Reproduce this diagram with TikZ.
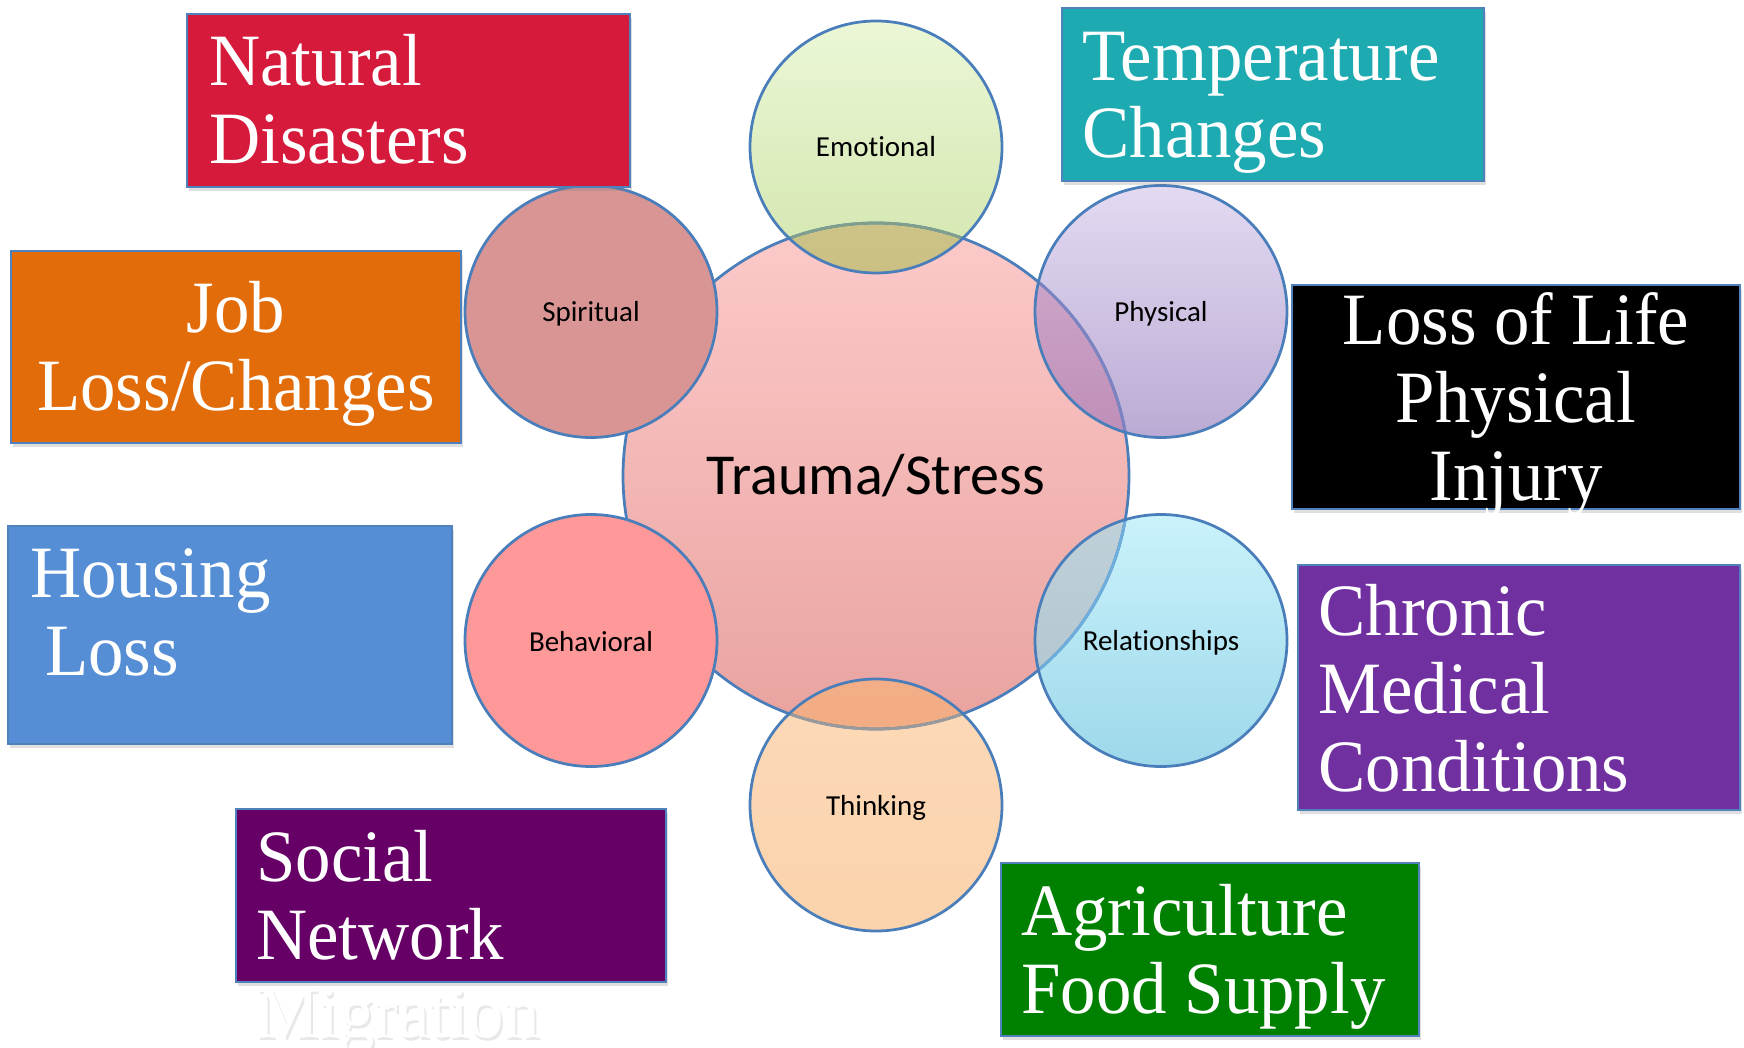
\documentclass[tikz,border=0pt]{standalone}
\usepackage{fontspec}
\setmainfont{Liberation Serif}
\newfontfamily\boxfont{Liberation Serif}[FakeStretch=0.96]
\newfontfamily\labelfont{Carlito}[Ligatures=CommonOff]
\usepackage{tikz}
\usetikzlibrary{
	shadows,
}
\definecolor{ringline}{HTML}{4A7EBB}
\definecolor{boxline}{HTML}{4F81BD}
\definecolor{natural}{HTML}{D51A3B}
\definecolor{temperature}{HTML}{1EAAB1}
\definecolor{job}{HTML}{E36C0A}
\definecolor{housing}{HTML}{558ED5}
\definecolor{chronic}{HTML}{7030A0}
\definecolor{social}{HTML}{660066}
\definecolor{agriculture}{HTML}{008000}
\definecolor{traumatop}{HTML}{FCCACA}
\definecolor{traumabot}{HTML}{E9A39F}
\definecolor{emotop}{HTML}{EBF7D6}
\definecolor{emobot}{HTML}{D3E6AE}
\definecolor{emomixtop}{HTML}{D8CF9A}
\definecolor{emomixbot}{HTML}{CBC083}
\definecolor{phystop}{HTML}{E3DAF2}
\definecolor{physbot}{HTML}{BBABD4}
\definecolor{physmixtop}{HTML}{D5B1D2}
\definecolor{physmixbot}{HTML}{BE8EB8}
\definecolor{reltop}{HTML}{CAF2FB}
\definecolor{relbot}{HTML}{9DD8EA}
\definecolor{relmixtop}{HTML}{BFD0D9}
\definecolor{relmixbot}{HTML}{AEC3CD}
\definecolor{thinktop}{HTML}{FCD9B8}
\definecolor{thinkbot}{HTML}{FBD3AC}
\definecolor{thinkmixtop}{HTML}{F2AE87}
\definecolor{thinkmixbot}{HTML}{F0A67C}
\definecolor{spiritual}{HTML}{D99594}
\definecolor{behavioral}{HTML}{FF9898}
\definecolor{emoarc}{HTML}{7F9F8C}
\definecolor{physarc}{HTML}{7C83C0}
\definecolor{relarc}{HTML}{6DAEDC}
\definecolor{thinkarc}{HTML}{9A9A9A}

\begin{document}
\begin{tikzpicture}[x=0.2mm, y=-0.2mm,
	ring/.style={draw=ringline, line width=0.55mm},
	box/.style={draw=boxline, line width=0.5mm, drop shadow={opacity=0.25, shadow xshift=0.4mm, shadow yshift=-0.8mm}},
	boxtext/.style={text=white, inner sep=0pt, font=\boxfont\fontsize{42}{44.2}\selectfont},
	small/.style={font=\labelfont\fontsize{16.5}{19}\selectfont},
	big/.style={font=\labelfont\fontsize{33}{36}\selectfont}]
\useasboundingbox (0,0) rectangle (1744,1048);

% centre circle
\fill[top color=traumatop, bottom color=traumabot] (876,476) circle (253);

% see-through circles
\fill[top color=emotop, bottom color=emobot] (876,147) circle (126);
\fill[top color=phystop, bottom color=physbot] (1161,311.5) circle (126);
\fill[top color=reltop, bottom color=relbot] (1161,640.5) circle (126);
\fill[top color=thinktop, bottom color=thinkbot] (876,805) circle (126);

% where they cover the centre
\begin{scope}
\clip (876,476) circle (253);
\fill[top color=emomixtop, bottom color=emomixbot] (876,147) circle (126);
\fill[top color=physmixtop, bottom color=physmixbot] (1161,311.5) circle (126);
\fill[top color=relmixtop, bottom color=relmixbot] (1161,640.5) circle (126);
\fill[top color=thinkmixtop, bottom color=thinkmixbot] (876,805) circle (126);
\end{scope}

% centre outline
\draw[ring] (876,476) circle (253);
\begin{scope}
\clip (876,147) circle (126);
\draw[ring, draw=emoarc] (876,476) circle (253);
\end{scope}
\begin{scope}
\clip (1161,311.5) circle (126);
\draw[ring, draw=physarc] (876,476) circle (253);
\end{scope}
\begin{scope}
\clip (1161,640.5) circle (126);
\draw[ring, draw=relarc] (876,476) circle (253);
\end{scope}
\begin{scope}
\clip (876,805) circle (126);
\draw[ring, draw=thinkarc] (876,476) circle (253);
\end{scope}

% solid circles
\fill[spiritual] (591,311.5) circle (126);
\fill[behavioral] (591,640.5) circle (126);

% outlines
\draw[ring] (876,147) circle (126);
\draw[ring] (1161,311.5) circle (126);
\draw[ring] (1161,640.5) circle (126);
\draw[ring] (876,805) circle (126);
\draw[ring] (591,311.5) circle (126);
\draw[ring] (591,640.5) circle (126);

\node[big] (trauma) at (876,476) {Trauma/Stress};
\node[small] (emotional) at (876,147) {Emotional};
\node[small] (physical) at (1161,314) {Physical};
\node[small] (relationships) at (1161,643) {Relationships};
\node[small] (thinking) at (876,808) {Thinking};
\node[small] (spiritualtext) at (591,314) {Spiritual};
\node[small] (behavioraltext) at (591,642) {Behavioral};

% boxes (text placed by its last line)
\draw[box, fill=natural] (187,14) rectangle (630,187);
\node[boxtext, anchor=base west, align=left] (naturaltext) at (209,163.5) {Natural\\Disasters};

\draw[box, fill=temperature] (1062,8) rectangle (1484,181);
\node[boxtext, anchor=base west, align=left] (temperaturetext) at (1082,158) {Temperature\\Changes};

\draw[box, fill=job] (11,251) rectangle (461,443);
\node[boxtext, anchor=base, align=center] (jobtext) at (236,410) {Job\\Loss/Changes};

\draw[box, fill=black] (1292,285) rectangle (1740,509);
\node[boxtext, anchor=base, align=center] (lifetext) at (1516,500) {Loss of Life\\Physical\\Injury};

\draw[box, fill=housing] (8,526) rectangle (452,744);
\node[boxtext, anchor=base west, align=left] (housingtext) at (30,675) {Housing\\\hspace{0.2em}Loss};

\draw[box, fill=chronic] (1298,565) rectangle (1740,810);
\node[boxtext, anchor=base west, align=left] (chronictext) at (1318,791) {Chronic\\Medical\\Conditions};

% migration runs out of the box
\node[boxtext, text=black!9, anchor=base west] (migrationshadow) at (258,1040) {Migration};
\draw[box, fill=social] (236,809) rectangle (666,982);
\node[boxtext, anchor=base west, align=left] (socialtext) at (256,1037) {Social\\Network\\Migration};

\draw[box, fill=agriculture] (1001,863) rectangle (1419,1036);
\node[boxtext, anchor=base west, align=left] (agriculturetext) at (1021,1013) {Agriculture\\Food Supply};

\end{tikzpicture}
\end{document}
